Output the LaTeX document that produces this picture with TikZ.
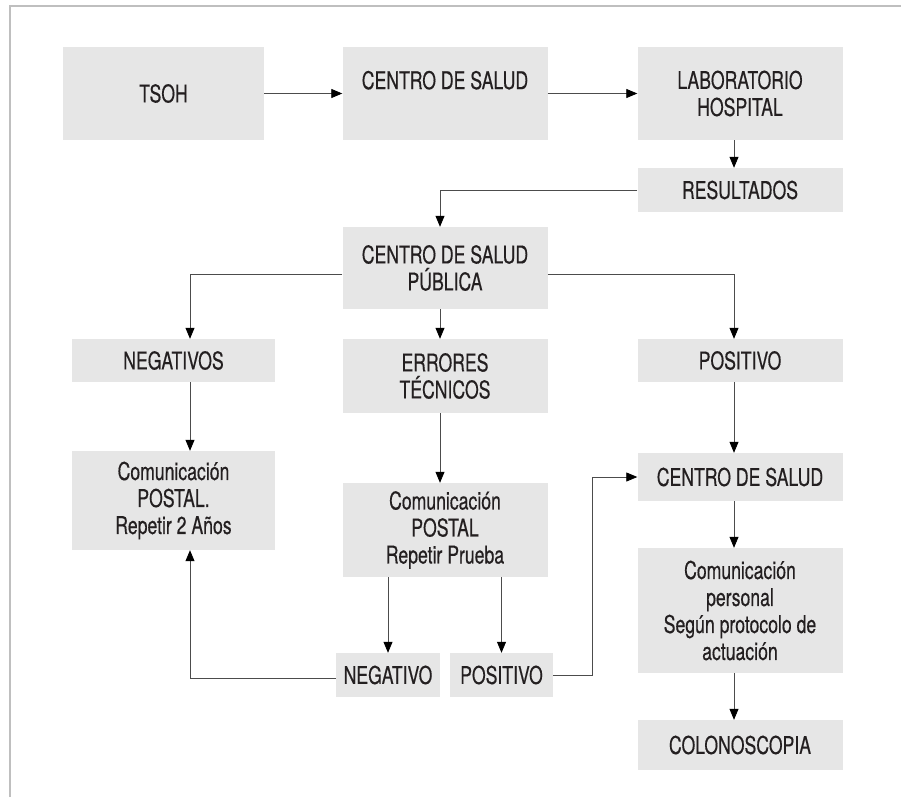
\documentclass[tikz,border=0pt]{standalone}
\usepackage{fontspec}
\setmainfont[FakeStretch=0.72,FakeBold=0.4]{TeX Gyre Heros}
\usetikzlibrary{arrows.meta}
\definecolor{boxgray}{HTML}{E6E6E6}
\definecolor{inkgray}{HTML}{231F20}
\newcommand{\lineColor}{black!70}
\newcommand{\boxColor}{boxgray}
\tikzset{block/.style = {fill=\boxColor, text=inkgray, align=center, inner sep=0pt,
    font=\fontsize{24.5}{27}\selectfont}}
\tikzset{conn/.style = {\lineColor, line width=0.8pt, -{Triangle[length=11pt,width=9pt,color=black]}}}
\tikzset{frame/.style = {black!25, line width=1.5pt}}

\begin{document}
\begin{tikzpicture}[x=1pt,y=-1pt]
                    \useasboundingbox (0,0) rectangle (901,797);
                    \def\colw{205pt}
                    % columns the vertical connectors run on
                    \coordinate (colL) at (190,0);
                    \coordinate (colM) at (440,0);
                    \coordinate (colR) at (734,0);
                    \coordinate (bend) at (592,0);

                    \draw[frame] (10,797) -- (10,6) -- (901,6);

                    \node[block, minimum width=201pt, minimum height=93pt] (tsoh) at (163.5,93.5) {TSOH};
                    \node[block, minimum width=\colw, minimum height=93pt] (cs) at (445,93.5) {CENTRO DE SALUD\\~};
                    \node[block, minimum width=\colw, minimum height=93pt] (lab) at (740,93.5) {LABORATORIO\\HOSPITAL};
                    \node[block, minimum width=\colw, minimum height=44pt] (res) at (740,190) {RESULTADOS};
                    \node[block, minimum width=\colw, minimum height=82pt] (csp) at (445,268) {CENTRO DE SALUD\\PÚBLICA};
                    \node[block, minimum width=203pt, minimum height=43pt] (negs) at (173.5,360.5) {NEGATIVOS};
                    \node[block, minimum width=\colw, minimum height=74pt] (err) at (445,376) {ERRORES\\TÉCNICOS};
                    \node[block, minimum width=\colw, minimum height=43pt] (pos) at (740,360.5) {POSITIVO};
                    \node[block, minimum width=203pt, minimum height=99pt] (postal) at (173.5,500.5) {Comunicación\\POSTAL.\\Repetir 2 Años};
                    \node[block, minimum width=\colw, minimum height=94pt] (prueba) at (445,530) {Comunicación\\POSTAL\\Repetir Prueba};
                    \node[block, minimum width=\colw, minimum height=48pt] (cs2) at (740,477) {CENTRO DE SALUD};
                    \node[block, minimum width=\colw, minimum height=125pt] (personal) at (740,610.5) {Comunicación\\personal\\Según protocolo de\\actuación};
                    \node[block, minimum width=\colw, minimum height=50pt] (colono) at (740,745) {COLONOSCOPIA};
                    \node[block, minimum width=104pt, minimum height=44pt] (neg) at (388,675) {NEGATIVO};
                    \node[block, minimum width=103pt, minimum height=44pt] (pos2) at (501.5,675) {POSITIVO};

                    \draw[conn] (tsoh) -- (cs);
                    \draw[conn] (cs) -- (lab);
                    \draw[conn] (lab.south -| colR) -- (res.north -| colR);
                    \draw[conn] (res.west) -| (csp.north -| colM);
                    \draw[conn] ([yshift=-6pt]csp.west) -| (negs.north -| colL);
                    \draw[conn] ([yshift=-6pt]csp.east) -| (pos.north -| colR);
                    \draw[conn] (csp.south -| colM) -- (err.north -| colM);
                    \draw[conn] (negs.south -| colL) -- (postal.north -| colL);
                    \draw[conn] (err.south -| colM) -- (prueba.north -| colM);
                    \draw[conn] (pos.south -| colR) -- (cs2.north -| colR);
                    \draw[conn] (cs2.south -| colR) -- (personal.north -| colR);
                    \draw[conn] (personal.south -| colR) -- (colono.north -| colR);
                    \draw[conn] (neg.north |- prueba.south) -- (neg.north);
                    \draw[conn] (pos2.north |- prueba.south) -- (pos2.north);
                    % results of the repeated test
                    \draw[conn] ([yshift=-3pt]neg.west) -| (postal.south -| colL);
                    \draw[conn] (pos2.east) -| (bend |- cs2.west) -- (cs2.west);
                \end{tikzpicture}
\end{document}
